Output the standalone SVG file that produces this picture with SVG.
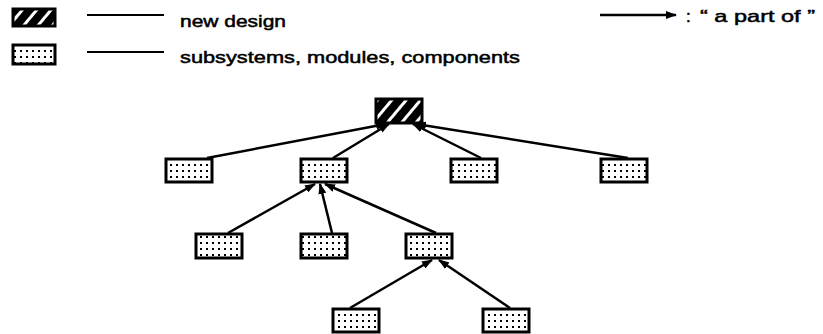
<svg xmlns="http://www.w3.org/2000/svg" width="823" height="334" viewBox="0 0 823 334">
  <defs>
    <!-- white diagonal stripes on black: the "new design" fill -->
    <pattern id="hatch" patternUnits="userSpaceOnUse" width="11" height="11" patternTransform="rotate(40)">
      <rect width="11" height="11" fill="#000"/>
      <rect x="0" y="0" width="3" height="11" fill="#fff"/>
    </pattern>
    <!-- stippled fill for subsystems / modules / components -->
    <pattern id="dots" patternUnits="userSpaceOnUse" width="6" height="6">
      <rect width="6" height="6" fill="#fff"/>
      <rect x="2" y="2" width="2" height="2" fill="#000"/>
    </pattern>
    <marker id="arrow" viewBox="0 0 11 8" refX="10" refY="4" markerWidth="11" markerHeight="8" markerUnits="userSpaceOnUse" orient="auto">
      <path d="M0,0 L11,4 L0,8 Z" fill="#000"/>
    </marker>
  </defs>
  <style>
    .new { fill: url(#hatch); stroke: #000; stroke-width: 3; }
    .sub { fill: url(#dots); stroke: #000; stroke-width: 3; }
    .edge { stroke: #000; stroke-width: 2.5; fill: none; marker-end: url(#arrow); }
    .rule { stroke: #000; stroke-width: 2; }
    .lbl { font-family: "Liberation Sans", Arial, sans-serif; font-size: 17px; fill: #000; stroke: #000; stroke-width: 0.5; }
  </style>

  <!-- legend -->
  <g id="legend">
    <rect class="new" x="13" y="9" width="42" height="17"/>
    <line class="rule" x1="87" y1="15" x2="164" y2="15"/>
    <text class="lbl" x="180" y="27" textLength="106" lengthAdjust="spacingAndGlyphs">new design</text>
    <rect class="sub" x="13" y="45" width="42" height="19"/>
    <line class="rule" x1="87" y1="52" x2="164" y2="52"/>
    <text class="lbl" x="180" y="63" textLength="340" lengthAdjust="spacingAndGlyphs">subsystems,  modules,  components</text>
    <line class="edge" x1="600" y1="15" x2="676" y2="15"/>
    <text class="lbl" x="686" y="22">:</text>
    <text class="lbl" x="700" y="22" textLength="115" lengthAdjust="spacingAndGlyphs">“ a part of ”</text>
  </g>

  <!-- connectors: child points to the whole it is a part of -->
  <g id="connectors">
    <line class="edge" x1="207" y1="158" x2="386" y2="124"/>
    <line class="edge" x1="333" y1="158" x2="389" y2="124"/>
    <line class="edge" x1="481" y1="158" x2="413" y2="124"/>
    <line class="edge" x1="628" y1="158" x2="416" y2="124"/>
    <line class="edge" x1="228" y1="233" x2="315" y2="184"/>
    <line class="edge" x1="332" y1="233" x2="320" y2="184"/>
    <line class="edge" x1="436" y1="233" x2="325" y2="184"/>
    <line class="edge" x1="350" y1="308" x2="432" y2="260"/>
    <line class="edge" x1="510" y1="308" x2="439" y2="260"/>
  </g>

  <!-- nodes -->
  <g id="root"><rect class="new" x="376" y="99" width="46" height="24"/></g>
  <g id="n1"><rect class="sub" x="166" y="159" width="46" height="23"/></g>
  <g id="n2"><rect class="sub" x="301" y="159" width="46" height="23"/></g>
  <g id="n3"><rect class="sub" x="451" y="159" width="46" height="23"/></g>
  <g id="n4"><rect class="sub" x="601" y="159" width="46" height="23"/></g>
  <g id="n2a"><rect class="sub" x="196" y="234" width="46" height="24"/></g>
  <g id="n2b"><rect class="sub" x="301" y="234" width="46" height="24"/></g>
  <g id="n2c"><rect class="sub" x="406" y="234" width="46" height="24"/></g>
  <g id="n2c1"><rect class="sub" x="333" y="309" width="46" height="23"/></g>
  <g id="n2c2"><rect class="sub" x="483" y="309" width="46" height="23"/></g>
</svg>
